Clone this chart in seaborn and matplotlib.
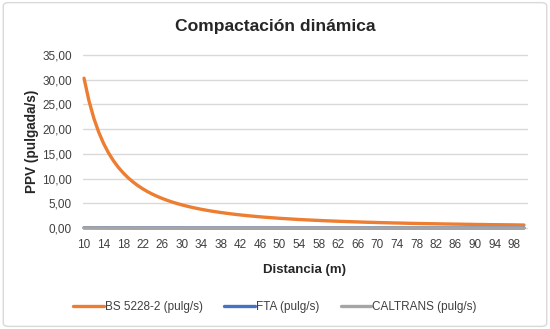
import matplotlib
matplotlib.use("Agg")
import matplotlib.pyplot as plt
from matplotlib.patches import FancyBboxPatch
from matplotlib.ticker import FuncFormatter
from matplotlib.lines import Line2D
import seaborn as sns
import pandas as pd

distancia = list(range(10, 101))
bs5228 = [30.30, 25.77, 22.22, 19.40, 17.10, 15.21, 13.63, 12.29, 11.16, 10.18,
          9.33, 8.58, 7.93, 7.35, 6.84, 6.38, 5.97, 5.60, 5.26, 4.96,
          4.68, 4.43, 4.19, 3.98, 3.78, 3.60, 3.43, 3.28, 3.13, 3.00,
          2.87, 2.75, 2.64, 2.54, 2.44, 2.35, 2.26, 2.18, 2.11, 2.03,
          1.96, 1.90, 1.84, 1.78, 1.72, 1.67, 1.62, 1.57, 1.53, 1.48,
          1.44, 1.40, 1.36, 1.33, 1.29, 1.26, 1.23, 1.19, 1.16, 1.14,
          1.11, 1.08, 1.06, 1.03, 1.01, 0.99, 0.96, 0.94, 0.92, 0.90,
          0.88, 0.87, 0.85, 0.83, 0.81, 0.80, 0.78, 0.77, 0.75, 0.74,
          0.72, 0.71, 0.70, 0.68, 0.67, 0.66, 0.65, 0.64, 0.63, 0.61,
          0.60]
fta = [0.05, 0.05, 0.04, 0.04, 0.04, 0.03, 0.03, 0.03, 0.03, 0.03,
       0.02, 0.02, 0.02, 0.02, 0.02, 0.02, 0.02, 0.02, 0.02, 0.02,
       0.02, 0.01, 0.01, 0.01, 0.01, 0.01, 0.01, 0.01, 0.01, 0.01,
       0.01, 0.01, 0.01, 0.01, 0.01, 0.01, 0.01, 0.01, 0.01, 0.01,
       0.01, 0.01, 0.01, 0.01, 0.01, 0.01, 0.01, 0.01, 0.01, 0.01,
       0.01, 0.01, 0.01, 0.01, 0.01, 0.01, 0.01, 0.01, 0.01, 0.01,
       0.01, 0.01, 0.01, 0.01, 0.01, 0.01, 0.01, 0.01, 0.01, 0.01,
       0.01, 0.01, 0.01, 0.01, 0.01, 0.01, 0.01, 0.01, 0.01, 0.01,
       0.01, 0.01, 0.01, 0.01, 0.01, 0.01, 0.01, 0.01, 0.01, 0.01,
       0.01]
caltrans = [0.03, 0.03, 0.03, 0.02, 0.02, 0.02, 0.02, 0.02, 0.02, 0.02,
            0.02, 0.01, 0.01, 0.01, 0.01, 0.01, 0.01, 0.01, 0.01, 0.01,
            0.01, 0.01, 0.01, 0.01, 0.01, 0.01, 0.01, 0.01, 0.01, 0.01,
            0.01, 0.01, 0.01, 0.01, 0.01, 0.01, 0.01, 0.01, 0.01, 0.01,
            0.01, 0.01, 0.01, 0.01, 0.01, 0.01, 0.01, 0.01, 0.01, 0.01,
            0.01, 0.01, 0.01, 0.01, 0.01, 0.01, 0.01, 0.01, 0.01, 0.01,
            0.01, 0.01, 0.01, 0.01, 0.01, 0.01, 0.01, 0.01, 0.01, 0.01,
            0.01, 0.01, 0.01, 0.01, 0.01, 0.01, 0.01, 0.01, 0.01, 0.01,
            0.01, 0.01, 0.01, 0.01, 0.01, 0.01, 0.01, 0.01, 0.01, 0.01,
            0.00]
series_names = ["BS 5228-2 (pulg/s)", "FTA (pulg/s)", "CALTRANS (pulg/s)"]
series_colors = ["#ED7D31", "#4472C4", "#A5A5A5"]
x_ticks = list(range(10, 99, 4))
y_ticks = [0, 5, 10, 15, 20, 25, 30, 35]

sns.set_theme(style="white")
plt.rcParams["font.family"] = ["Liberation Sans Narrow", "Liberation Sans", "DejaVu Sans"]

df = pd.DataFrame({
    "Distancia": distancia * 3,
    "PPV": bs5228 + fta + caltrans,
    "Serie": [series_names[0]] * len(distancia) + [series_names[1]] * len(distancia)
             + [series_names[2]] * len(distancia),
})

fig = plt.figure(figsize=(5.5, 3.29), dpi=100)
ax = fig.add_axes([0.151, 0.307, 0.807, 0.526])

for y in y_ticks:
    ax.axhline(y, color="#D9D9D9", lw=1.0, zorder=0)

sns.lineplot(data=df, x="Distancia", y="PPV", hue="Serie", hue_order=series_names,
             palette=series_colors, linewidth=2.4, ax=ax, legend=False, zorder=3)
for ln in ax.get_lines():
    ln.set_clip_on(False)

ax.set_xlim(9.8, 100.6)
ax.set_ylim(0, 35)
ax.set_xticks(x_ticks)
ax.set_xticklabels([str(t) for t in x_ticks])
ax.set_yticks(y_ticks)
ax.yaxis.set_major_formatter(FuncFormatter(lambda v, p: f"{v:.2f}".replace(".", ",")))
ax.tick_params(axis="both", length=0, labelsize=8.5, colors="#404040")
ax.tick_params(axis="x", pad=8)
ax.tick_params(axis="y", pad=8)
for s in ax.spines.values():
    s.set_visible(False)
ax.grid(False)

ax.set_xlabel("Distancia (m)", fontsize=9.5, fontweight="bold", color="#262626", labelpad=9)
ax.set_ylabel("PPV (pulgada/s)", fontsize=9.8, fontweight="bold", color="#262626", labelpad=2)

fig.text(0.5, 0.918, "Compactación dinámica", ha="center", va="center",
         fontsize=12.6, fontweight="bold", color="#262626", family=["Liberation Sans", "DejaVu Sans"])

handles = [Line2D([], [], color=c, lw=2.4) for c in series_colors]
fig.legend(handles, series_names, loc="center", bbox_to_anchor=(0.5, 0.067), ncol=3,
           frameon=False, fontsize=8.5, handlelength=2.6, handletextpad=0.1,
           columnspacing=1.8, labelcolor="#404040")

border = FancyBboxPatch((0.006, 0.008), 0.988, 0.984, boxstyle="round,pad=0,rounding_size=0.01",
                        transform=fig.transFigure, fill=False, edgecolor="#D9D9D9", lw=1.0)
fig.patches.append(border)

fig.savefig("out.png", dpi=100)
